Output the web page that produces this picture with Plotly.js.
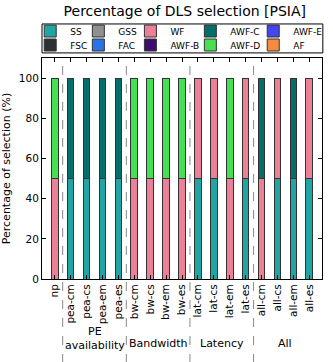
<!DOCTYPE html>
<html>
<head>
<meta charset="utf-8">
<script src="https://cdn.plot.ly/plotly-3.0.1.min.js"></script>
<style>
  html, body { margin: 0; padding: 0; background: #fff; }
  #chart { width: 333px; height: 362px; }
</style>
</head>
<body>
<div id="chart"></div>
<script>
const categories = ["np", "pea-cm", "pea-cs", "pea-em", "pea-es",
  "bw-cm", "bw-cs", "bw-em", "bw-es",
  "lat-cm", "lat-cs", "lat-em", "lat-es",
  "all-cm", "all-cs", "all-em", "all-es"];

// share of each DLS per configuration (%)
const SS    = [0, 50, 50, 50, 50, 0, 0, 0, 0, 50, 50, 0, 50, 0, 50, 50, 50];
const FSC   = [0, 0, 0, 0, 0, 0, 0, 0, 0, 0, 0, 0, 0, 0, 0, 0, 0];
const GSS   = [0, 0, 0, 0, 0, 0, 0, 0, 0, 0, 0, 0, 0, 0, 0, 0, 0];
const FAC   = [0, 0, 0, 0, 0, 0, 0, 0, 0, 0, 0, 0, 0, 0, 0, 0, 0];
const WF    = [50, 0, 0, 0, 0, 50, 50, 50, 50, 50, 50, 50, 50, 50, 50, 0, 50];
const AWF_B = [0, 0, 0, 0, 0, 0, 0, 0, 0, 0, 0, 0, 0, 0, 0, 0, 0];
const AWF_C = [0, 50, 50, 50, 50, 0, 0, 0, 0, 0, 0, 0, 0, 50, 0, 50, 0];
const AWF_D = [50, 0, 0, 0, 0, 50, 50, 50, 50, 0, 0, 50, 0, 0, 0, 0, 0];
const AWF_E = [0, 0, 0, 0, 0, 0, 0, 0, 0, 0, 0, 0, 0, 0, 0, 0, 0];
const AF    = [0, 0, 0, 0, 0, 0, 0, 0, 0, 0, 0, 0, 0, 0, 0, 0, 0];

const groupLabels = ["PE<br>availability", "Bandwidth", "Latency", "All"];
const groupCenters = [2.5, 6.5, 10.5, 14.5];
const groupBounds = [0.5, 4.5, 8.5, 12.5];

const series = [
  { name: "SS",    y: SS,    color: "#20a5a5" },
  { name: "FSC",   y: FSC,   color: "#2b3235" },
  { name: "GSS",   y: GSS,   color: "#8c9192" },
  { name: "FAC",   y: FAC,   color: "#2b74e6" },
  { name: "WF",    y: WF,    color: "#ec8098" },
  { name: "AWF-B", y: AWF_B, color: "#400c70" },
  { name: "AWF-C", y: AWF_C, color: "#036e6a" },
  { name: "AWF-D", y: AWF_D, color: "#46e052" },
  { name: "AWF-E", y: AWF_E, color: "#4646ee" },
  { name: "AF",    y: AF,    color: "#f68c3e" }
];

const font = "DejaVu Sans, Liberation Sans, sans-serif";

const legendKey = i => (i === 0 ? "legend" : "legend" + (i + 1));

const data = series.map((s, i) => ({
  type: "bar",
  name: s.name,
  x: categories,
  y: s.y,
  width: 0.42,
  marker: { color: s.color, line: { color: "#333", width: 1 } },
  legend: legendKey(i)
}));

// matplotlib ncol=5 legend: one single-entry legend per cell, column-major
const colText = [70, 119, 172, 233, 297];  // px where the label text starts
const rowMid = [31, 45];                   // px row centres
const legends = {};
series.forEach((s, i) => {
  const col = Math.floor(i / 2), row = i % 2;
  legends[legendKey(i)] = {
    orientation: "v",
    traceorder: "normal",
    bgcolor: "rgba(0,0,0,0)",
    borderwidth: 0,
    font: { family: font, size: 9, color: "#000" },
    xanchor: "left",
    yanchor: "middle",
    x: (colText[col] - 40 - 42) / 285,
    y: 1 + (58 - rowMid[row]) / 221,
    itemclick: false
  };
});

const shapes = groupBounds.map(b => ({
  type: "line", xref: "x", yref: "paper",
  x0: b, x1: b, y0: -0.38, y1: 1,
  line: { color: "#888", width: 1, dash: "dash" }
}));
shapes.push({
  type: "rect", xref: "paper", yref: "paper",
  x0: 0, x1: 1.003, y0: 1.023, y1: 1.154,
  line: { color: "#000", width: 1 }
});

const annotations = groupLabels.map((t, i) => ({
  text: t, x: groupCenters[i], xref: "x",
  y: i === 0 ? -0.267 : -0.294, yref: "paper",
  yanchor: "middle", showarrow: false,
  font: { family: font, size: 11, color: "#000" }
}));

const layout = Object.assign({
  width: 333,
  height: 362,
  title: {
    text: "Percentage of DLS selection [PSIA]",
    font: { family: font, size: 14, color: "#000" },
    x: 0.555, xanchor: "center", y: 0.968, yanchor: "middle"
  },
  barmode: "stack",
  showlegend: true,
  margin: { l: 42, r: 6, t: 58, b: 83 },
  xaxis: {
    range: [-0.8, 16.8],
    tickangle: -90,
    ticks: "inside", ticklen: 4, tickcolor: "#000",
    showline: true, linecolor: "#000", linewidth: 1, mirror: "ticks",
    showgrid: false,
    tickfont: { family: font, size: 10.5, color: "#000" }
  },
  yaxis: {
    range: [0, 110],
    tickvals: [0, 20, 40, 60, 80, 100],
    ticks: "inside", ticklen: 4, tickcolor: "#000",
    showline: true, linecolor: "#000", linewidth: 1, mirror: "ticks",
    showgrid: false, zeroline: false,
    tickfont: { family: font, size: 10.5, color: "#000" },
    title: { text: "Percentage of selection (%)", standoff: 6,
      font: { family: font, size: 11, color: "#000" } }
  },
  shapes: shapes,
  annotations: annotations,
  plot_bgcolor: "#fff",
  paper_bgcolor: "#fff"
}, legends);

Plotly.newPlot("chart", data, layout, { displayModeBar: false, staticPlot: true });
</script>
</body>
</html>
